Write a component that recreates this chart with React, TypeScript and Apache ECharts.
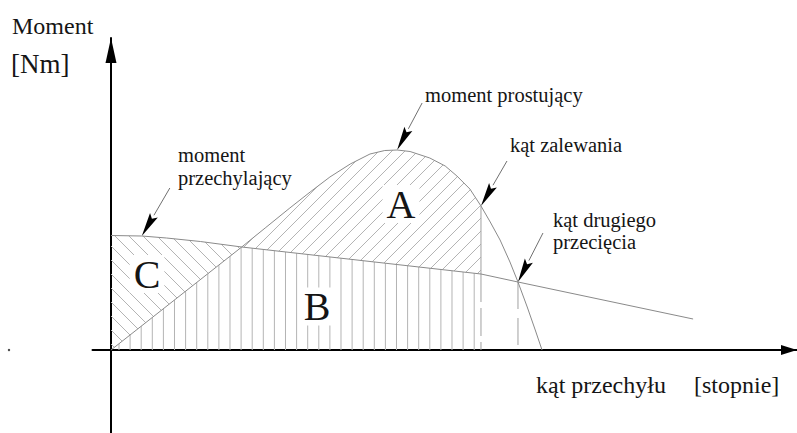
import React, { useEffect, useRef } from "react";
import * as echarts from "echarts";

// Righting moment curve: heel angle [deg] -> moment [Nm]
const rightingAngles = [0, 21.2, 25, 29, 32.3, 35.5, 38.8, 42, 44.4, 46.4, 48.5, 51.7, 54.2, 56.1, 58.2, 60, 61.5, 63.1, 64.7, 66, 67.5, 68.8, 69.9];
const rightingMoments = [0, 51.5, 61, 71, 79, 86.5, 93, 98, 99.75, 100, 99.25, 96, 92, 87, 80.5, 72, 64, 55, 44, 34, 21.5, 10, 0];

// Heeling moment line: heel angle [deg] -> moment [Nm]
const heelingAngles = [0, 5, 9, 14.5, 21.2, 60, 66, 94.4];
const heelingMoments = [57.25, 57, 56, 54.25, 51.5, 38, 34, 15.5];

// Characteristic angles [deg]
const firstCrossing = 21.2;
const floodingAngle = 60;
const secondCrossing = 66;

// Annotated points: [curve, angle]
const pointerCurves = ["heeling", "righting", "righting", "righting"];
const pointerAngles = [5, 46.4, 60, 66];

// Pixel offsets of the pointer tails from their tips
const pointerTailOffsets = [
  [28, -48],
  [25, -47],
  [26, -45],
  [25, -49],
];

const SERIF = "'Liberation Serif', 'Times New Roman', serif";
const CURVE = "#8a8a8a";
const HATCH = "#b4b4b4";

type Pt = number[];

const pairs = (xs: number[], ys: number[]): Pt[] => xs.map((x, i) => [x, ys[i]]);

const interp = (xs: number[], ys: number[], x: number) => {
  for (let i = 0; i < xs.length - 1; i++) {
    if (x >= xs[i] && x <= xs[i + 1]) {
      const t = (x - xs[i]) / (xs[i + 1] - xs[i] || 1);
      return ys[i] + t * (ys[i + 1] - ys[i]);
    }
  }
  return ys[ys.length - 1];
};

const between = (pts: Pt[], lo: number, hi: number) =>
  pts.filter((p) => p[0] >= lo - 1e-9 && p[0] <= hi + 1e-9);

const renderItem = (_params: any, api: any) => {
  const px = (a: number, m: number): Pt => api.coord([a, m]);
  const R = pairs(rightingAngles, rightingMoments);
  const H = pairs(heelingAngles, heelingMoments);
  const origin = px(0, 0);

  const polyC = [...between(H, 0, firstCrossing), ...between(R, 0, firstCrossing).reverse()].map((p) => px(p[0], p[1]));
  const polyA = [...between(R, firstCrossing, floodingAngle), ...between(H, firstCrossing, floodingAngle).reverse()].map((p) => px(p[0], p[1]));
  const polyB = [[0, 0], ...between(R, 0, firstCrossing), ...between(H, firstCrossing, floodingAngle), [floodingAngle, 0]].map((p) => px(p[0], p[1]));

  const seg = (x1: number, y1: number, x2: number, y2: number, stroke = HATCH, dash?: number[]) => ({
    type: "line",
    shape: { x1, y1, x2, y2 },
    style: { stroke, lineWidth: 1, lineDash: dash, fill: null },
  });

  const hatch = (poly: Pt[], kind: string, step: number, phase: number) => {
    const xs = poly.map((p) => p[0]);
    const ys = poly.map((p) => p[1]);
    const x0 = Math.min(...xs) - 2, x1 = Math.max(...xs) + 2;
    const y0 = Math.min(...ys) - 2, y1 = Math.max(...ys) + 2;
    const children: any[] = [];
    if (kind === "|") {
      const base = origin[0] + phase;
      for (let x = base + Math.ceil((x0 - base) / step) * step; x <= x1; x += step) children.push(seg(x, y0, x, y1));
    } else if (kind === "/") {
      const base = origin[0] + origin[1] + phase;
      const cMin = x0 + y0, cMax = x1 + y1;
      for (let c = base + Math.ceil((cMin - base) / step) * step; c <= cMax; c += step) children.push(seg(x0, c - x0, x1, c - x1));
    } else {
      const base = origin[0] - origin[1] + phase;
      const cMin = x0 - y1, cMax = x1 - y0;
      for (let c = base + Math.ceil((cMin - base) / step) * step; c <= cMax; c += step) children.push(seg(x0, x0 - c, x1, x1 - c));
    }
    return { type: "group", clipPath: { type: "polygon", shape: { points: poly } }, children };
  };

  const children: any[] = [hatch(polyB, "|", 11.1, 8), hatch(polyA, "/", 13, 4), hatch(polyC, "\\", 14, 6)];

  // Flooding angle: boundary of A, then dashed down to the axis
  const fR = px(floodingAngle, interp(rightingAngles, rightingMoments, floodingAngle));
  const fH = px(floodingAngle, interp(heelingAngles, heelingMoments, floodingAngle));
  children.push(seg(fR[0], fR[1], fH[0], fH[1], "#a0a0a0"));
  children.push(seg(fH[0], fH[1], origin[0] + (fH[0] - origin[0]), origin[1], "#a0a0a0", [28, 6]));

  // Second crossing: dashed down to the axis
  const sR = px(secondCrossing, interp(rightingAngles, rightingMoments, secondCrossing));
  children.push(seg(sR[0], sR[1], sR[0], origin[1], "#a0a0a0", [27, 9]));

  // Pointers with dart-shaped heads
  pointerAngles.forEach((a, i) => {
    const m = pointerCurves[i] === "heeling" ? interp(heelingAngles, heelingMoments, a) : interp(rightingAngles, rightingMoments, a);
    const tip = px(a, m);
    const off = pointerTailOffsets[i];
    const tail = [tip[0] + off[0], tip[1] + off[1]];
    const dx = tip[0] - tail[0], dy = tip[1] - tail[1];
    const len = Math.hypot(dx, dy);
    const ux = dx / len, uy = dy / len, nx = -uy, ny = ux;
    const L = 24, W = 4.5;
    const bx = tip[0] - ux * L, by = tip[1] - uy * L;
    children.push(seg(tail[0], tail[1], bx, by, "#707070"));
    children.push({
      type: "polygon",
      shape: { points: [tip, [bx + nx * W, by + ny * W], [bx + ux * 4, by + uy * 4], [bx - nx * W, by - ny * W]] },
      style: { fill: "#000", stroke: null },
    });
  });

  return { type: "group", children };
};

const text = (t: string, x: number, y: number, size: number, extra: any = {}) => ({
  type: "text",
  x,
  y,
  z: 100,
  style: {
    text: t,
    font: `${size}px ${SERIF}`,
    fill: "#151515",
    align: "left",
    verticalAlign: "middle",
    textAlign: "left",
    textVerticalAlign: "middle",
    ...extra,
  },
});

const regionLetter = (t: string, x: number, y: number) =>
  text(t, x, y, 40, {
    align: "center",
    textAlign: "center",
    backgroundColor: "#fff",
    padding: [0, 4],
    lineHeight: 38,
  });

export default function App() {
  const ref = useRef<HTMLDivElement>(null);

  useEffect(() => {
    if (!ref.current) return;
    const chart = echarts.init(ref.current, undefined, { renderer: "svg" });
    const axisCommon = {
      type: "value",
      axisTick: { show: false },
      axisLabel: { show: false },
      splitLine: { show: false },
    };
    chart.setOption({
      animation: false,
      backgroundColor: "#fff",
      grid: { left: 92.5, top: 38, width: 704.5, height: 395, containLabel: false },
      xAxis: {
        ...axisCommon,
        min: -3,
        max: 111.25,
        axisLine: {
          onZero: true,
          symbol: ["none", "triangle"],
          symbolSize: [10, 16],
          symbolOffset: [0, -8],
          lineStyle: { color: "#000", width: 2 },
        },
      },
      yAxis: {
        ...axisCommon,
        min: -41.5,
        max: 156,
        axisLine: {
          onZero: true,
          symbol: ["none", "triangle"],
          symbolSize: [11, 25],
          symbolOffset: [0, -12.5],
          lineStyle: { color: "#000", width: 2 },
        },
      },
      series: [
        { type: "custom", renderItem, data: [[0, 0]], silent: true, z: 2 },
        {
          type: "line",
          name: "moment prostujący",
          data: pairs(rightingAngles, rightingMoments),
          symbol: "none",
          lineStyle: { color: CURVE, width: 1 },
          silent: true,
          z: 3,
        },
        {
          type: "line",
          name: "moment przechylający",
          data: pairs(heelingAngles, heelingMoments),
          symbol: "none",
          lineStyle: { color: CURVE, width: 1 },
          silent: true,
          z: 3,
        },
      ],
      graphic: [
        text("Moment", 12, 26, 24),
        text("[Nm]", 11, 64, 27),
        text("moment", 178, 155, 20.5),
        text("przechylający", 178, 178, 20.5),
        text("moment prostujący", 425, 95, 20.5),
        text("kąt zalewania", 510, 145, 20.5),
        text("kąt drugiego", 553, 220, 20.5),
        text("przecięcia", 553, 242, 20.5),
        text("kąt przechyłu", 536, 385, 24),
        text("[stopnie]", 694, 385, 24),
        regionLetter("A", 401, 204),
        regionLetter("B", 317, 306.5),
        regionLetter("C", 147, 274),
        { type: "circle", z: 100, shape: { cx: 9, cy: 350, r: 1.2 }, style: { fill: "#444" } },
      ],
    });
    return () => chart.dispose();
  }, []);

  return <div ref={ref} style={{ position: "fixed", left: 0, top: 0, width: 797, height: 433 }} />;
}
